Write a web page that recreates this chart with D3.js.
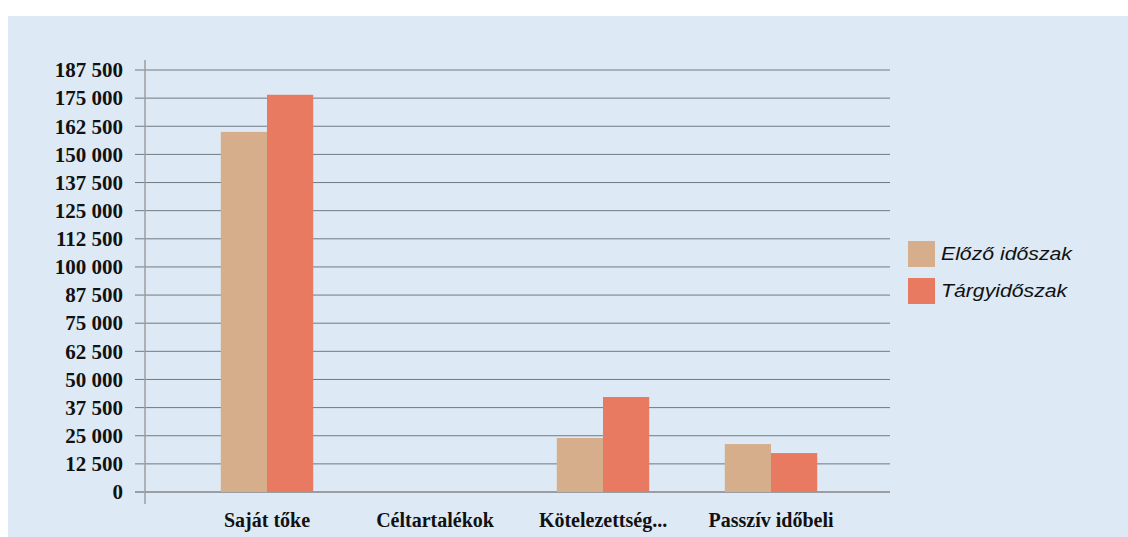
<!DOCTYPE html>
<html>
<head>
<meta charset="utf-8">
<script src="https://cdn.jsdelivr.net/npm/d3@7"></script>
<style>
  body { margin: 0; background: #fff; }
  svg { display: block; }
</style>
</head>
<body>
<div id="chart"></div>
<script>
var categories = ["Saját tőke", "Céltartalékok", "Kötelezettség...", "Passzív időbeli"];
var seriesNames = ["Előző időszak", "Tárgyidőszak"];
var elozo = [160000, 0, 24000, 21300];
var targy = [176500, 0, 42200, 17300];
var yTicks = [0, 12500, 25000, 37500, 50000, 62500, 75000, 87500, 100000,
  112500, 125000, 137500, 150000, 162500, 175000, 187500];
var colors = ["#d6ae8c", "#e87a62"];

var width = 1128, height = 537;
var svg = d3.select("#chart").append("svg")
  .attr("width", width).attr("height", height);

// scanned page background
svg.append("rect").attr("x", 8).attr("y", 16)
  .attr("width", width - 8).attr("height", height - 16)
  .attr("fill", "#dde9f4");

var y = d3.scaleLinear().domain([0, 187500]).range([492, 70]);
var x0 = d3.scaleBand().domain(categories).range([183, 855])
  .paddingInner(0.45).paddingOuter(0.225);
var x1 = d3.scaleBand().domain(seriesNames).range([0, x0.bandwidth()]);

var fmt = function(d) { return d3.format(",")(d).replace(/,/g, " "); };

// gridlines
svg.append("g").selectAll("line").data(yTicks.filter(function(d) { return d > 0; }))
  .enter().append("line")
  .attr("x1", 135).attr("x2", 890)
  .attr("y1", function(d) { return y(d); }).attr("y2", function(d) { return y(d); })
  .attr("stroke", "#474c52").attr("stroke-width", 1).attr("opacity", 0.7);

// y axis
var yAxis = svg.append("g").attr("transform", "translate(145,0)")
  .call(d3.axisLeft(y).tickValues(yTicks).tickFormat(fmt).tickSize(0).tickPadding(22));
yAxis.select(".domain").remove();
yAxis.selectAll("text")
  .attr("font-family", "Liberation Serif, Times New Roman, serif")
  .attr("font-weight", "bold").attr("font-size", "21px").attr("fill", "#111");

svg.append("line").attr("x1", 145).attr("x2", 145).attr("y1", 60).attr("y2", 504)
  .attr("stroke", "#9a9ea3").attr("stroke-width", 1.5);
svg.append("line").attr("x1", 135).attr("x2", 890).attr("y1", y(0)).attr("y2", y(0))
  .attr("stroke", "#9a9ea3").attr("stroke-width", 2);

// bars
var groups = svg.append("g").selectAll("g").data(categories).enter().append("g")
  .attr("transform", function(d) { return "translate(" + x0(d) + ",0)"; });
groups.selectAll("rect").data(function(d, i) {
    return [{ s: seriesNames[0], v: elozo[i], c: colors[0] },
            { s: seriesNames[1], v: targy[i], c: colors[1] }];
  })
  .enter().append("rect")
  .attr("x", function(d) { return x1(d.s); })
  .attr("width", x1.bandwidth())
  .attr("y", function(d) { return y(d.v); })
  .attr("height", function(d) { return y(0) - y(d.v); })
  .attr("fill", function(d) { return d.c; });

// category labels
var xAxis = svg.append("g").attr("transform", "translate(0," + y(0) + ")")
  .call(d3.axisBottom(x0).tickSize(0).tickPadding(21));
xAxis.select(".domain").remove();
xAxis.selectAll("text")
  .attr("font-family", "Liberation Serif, Times New Roman, serif")
  .attr("font-weight", "bold").attr("font-size", "20px").attr("fill", "#111");
// wrapped second line, mostly below the page edge as in the scan
svg.append("text").attr("x", x0("Passzív időbeli") + x0.bandwidth() / 2).attr("y", 556)
  .attr("text-anchor", "middle")
  .attr("font-family", "Liberation Serif, Times New Roman, serif")
  .attr("font-weight", "bold").attr("font-size", "20px").attr("fill", "#111")
  .text("elhatárolások");

// legend
var legend = svg.append("g").selectAll("g").data(seriesNames).enter().append("g")
  .attr("transform", function(d, i) { return "translate(908," + (241 + i * 37) + ")"; });
legend.append("rect").attr("width", 27).attr("height", 26)
  .attr("fill", function(d, i) { return colors[i]; });
legend.append("text").attr("transform", "translate(33,19) scale(1.18,1)")
  .attr("font-family", "Liberation Sans, Arial, sans-serif")
  .attr("font-style", "italic").attr("font-size", "18px").attr("fill", "#111")
  .text(function(d) { return d; });
</script>
</body>
</html>
